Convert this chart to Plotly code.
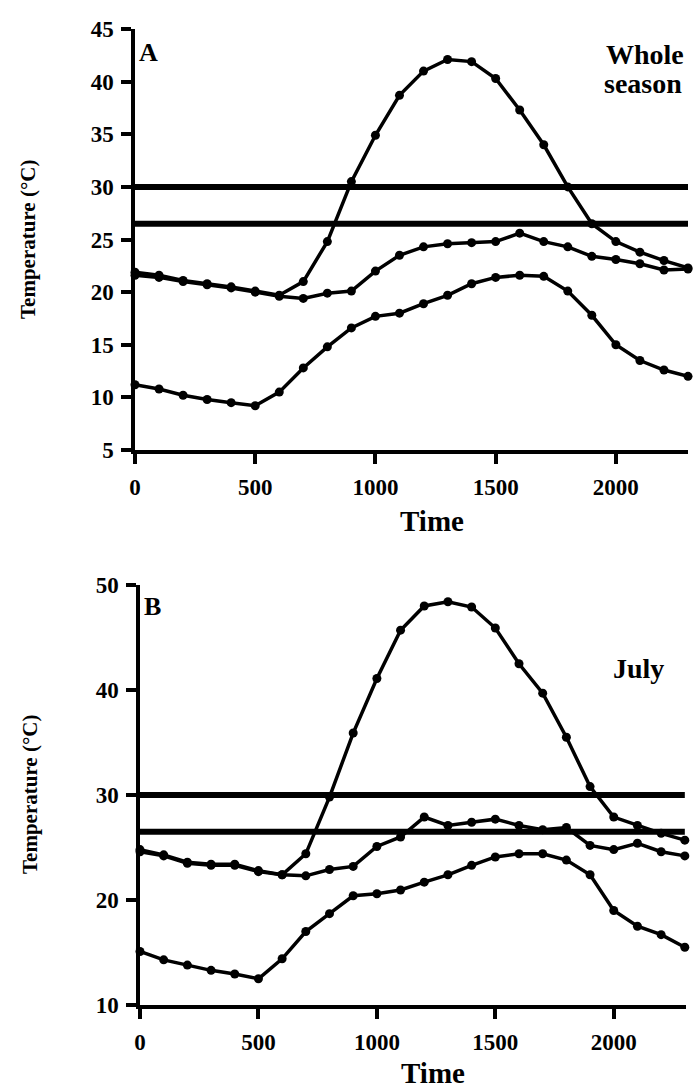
import plotly.graph_objects as go

times = list(range(0, 2400, 100))

# Panel A: whole season
a_max = [21.9, 21.6, 21.1, 20.8, 20.5, 20.1, 19.7, 21.0, 24.8, 30.5, 34.9, 38.7,
         41.0, 42.1, 41.9, 40.3, 37.3, 34.0, 30.0, 26.5, 24.8, 23.8, 23.0, 22.3]
a_mid = [21.6, 21.4, 21.0, 20.7, 20.4, 20.0, 19.6, 19.4, 19.9, 20.1, 22.0, 23.5,
         24.3, 24.6, 24.7, 24.8, 25.6, 24.8, 24.3, 23.4, 23.1, 22.7, 22.1, 22.2]
a_min = [11.2, 10.8, 10.2, 9.8, 9.5, 9.2, 10.5, 12.8, 14.8, 16.6, 17.7, 18.0,
         18.9, 19.7, 20.8, 21.4, 21.6, 21.5, 20.1, 17.8, 15.0, 13.5, 12.6, 12.0]

# Panel B: July
b_max = [24.8, 24.3, 23.6, 23.4, 23.4, 22.8, 22.4, 24.4, 29.8, 35.9, 41.1, 45.7,
         48.0, 48.4, 47.9, 45.9, 42.5, 39.7, 35.5, 30.8, 27.9, 27.1, 26.35, 25.7]
b_mid = [24.6, 24.2, 23.5, 23.3, 23.3, 22.7, 22.4, 22.3, 22.9, 23.2, 25.1, 26.0,
         27.9, 27.1, 27.4, 27.7, 27.1, 26.7, 26.9, 25.2, 24.8, 25.4, 24.6, 24.2]
b_min = [15.1, 14.3, 13.8, 13.3, 12.95, 12.5, 14.4, 17.0, 18.7, 20.4, 20.6, 20.95,
         21.7, 22.4, 23.3, 24.1, 24.4, 24.4, 23.8, 22.4, 19.0, 17.5, 16.7, 15.5]

thresholds = [30, 26.5]
threshold_span = [0, 2300]

a_yticks = [5, 10, 15, 20, 25, 30, 35, 40, 45]
b_yticks = [10, 20, 30, 40, 50]
x_ticks = [0, 500, 1000, 1500, 2000]

W, H = 693, 1088
FONT = "Liberation Serif"

fig = go.Figure()

def add_panel(xa, ya, series):
    for t in thresholds:
        fig.add_trace(go.Scatter(x=threshold_span, y=[t, t], mode="lines",
                                 line=dict(color="black", width=6),
                                 xaxis=xa, yaxis=ya, showlegend=False,
                                 hoverinfo="skip"))
    for s in series:
        fig.add_trace(go.Scatter(x=times, y=s, mode="lines+markers",
                                 line=dict(color="black", width=3.5),
                                 marker=dict(color="black", size=9),
                                 xaxis=xa, yaxis=ya, showlegend=False,
                                 cliponaxis=False))

add_panel("x", "y", [a_max, a_mid, a_min])
add_panel("x2", "y2", [b_max, b_mid, b_min])

def px_x(p):
    return p / W

def px_y(p):
    return 1 - p / H

axis_common = dict(showgrid=False, zeroline=False, showline=True, automargin=False,
                   linecolor="black", linewidth=3.5, ticks="outside",
                   ticklen=10, tickwidth=3.5, tickcolor="black",
                   tickfont=dict(family=FONT, size=23, color="black", weight="bold"))

fig.update_layout(
    width=W, height=H,
    margin=dict(l=0, r=0, t=0, b=0),
    paper_bgcolor="white", plot_bgcolor="white",
    xaxis=dict(domain=[px_x(135), px_x(688)], range=[0, 2300], ticklabelstandoff=4,
               tickvals=x_ticks, anchor="y", **axis_common),
    yaxis=dict(domain=[px_y(450), px_y(29)], range=[5, 45], ticklabelstandoff=3,
               tickvals=a_yticks, anchor="x", **axis_common),
    xaxis2=dict(domain=[px_x(140), px_x(686)], range=[0, 2305], ticklabelstandoff=4,
                tickvals=x_ticks, anchor="y2", **axis_common),
    yaxis2=dict(domain=[px_y(1005), px_y(585)], range=[10, 50], ticklabelstandoff=3,
                tickvals=b_yticks, anchor="x2", **axis_common),
)

def ann(text, x, y, size=20, xanchor="center", yanchor="middle", angle=0):
    fig.add_annotation(text=text, x=px_x(x), y=px_y(y), xref="paper", yref="paper",
                       showarrow=False, xanchor=xanchor, yanchor=yanchor,
                       textangle=angle,
                       font=dict(family=FONT, size=size, color="black"))

ann("<b>A</b>", 137, 53, size=26, xanchor="left")
ann("<b>Whole</b>", 604, 54, size=28, xanchor="left")
ann("<b>season</b>", 602, 84, size=28, xanchor="left")
ann("<b>B</b>", 142, 606, size=26, xanchor="left")
ann("<b>July</b>", 611, 668, size=28, xanchor="left")
ann("<b>Time</b>", 432, 521, size=29)
ann("<b>Time</b>", 433, 1073, size=29)
ann("<b>Temperature (°C)</b>", 28, 240, size=21, angle=-90)
ann("<b>Temperature (°C)</b>", 30, 795, size=21, angle=-90)

fig.write_html(
    "out.html",
    config={"displayModeBar": False},
    post_script="document.body.style.margin='0px';document.body.style.overflow='hidden';",
)
